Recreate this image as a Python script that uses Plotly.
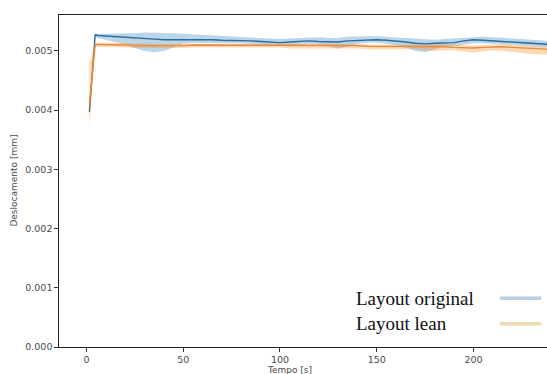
import plotly.graph_objects as go

# Time axis [s]
tempo = [1.5, 4.5, 6, 10, 15, 20, 25, 30, 35, 40, 45, 50, 55, 60, 65, 70, 75, 80, 85, 90,
         95, 100, 105, 110, 115, 120, 125, 130, 135, 140, 145, 150, 155, 160, 165, 170,
         175, 180, 185, 190, 195, 200, 205, 210, 215, 220, 225, 230, 235, 240, 245]

# Layout original (values in 1e-3 mm)
orig_mean = [3.97, 5.27, 5.26, 5.25, 5.24, 5.23, 5.22, 5.21, 5.20, 5.19, 5.19, 5.20, 5.20,
             5.19, 5.19, 5.18, 5.18, 5.18, 5.17, 5.16, 5.15, 5.14, 5.15, 5.16, 5.17, 5.16,
             5.15, 5.15, 5.17, 5.18, 5.19, 5.19, 5.18, 5.17, 5.15, 5.13, 5.12, 5.13, 5.14,
             5.14, 5.17, 5.19, 5.18, 5.17, 5.16, 5.15, 5.14, 5.12, 5.11, 5.10, 5.10]
orig_upper = [4.02, 5.29, 5.29, 5.29, 5.29, 5.30, 5.30, 5.31, 5.31, 5.30, 5.30, 5.29, 5.28,
              5.27, 5.26, 5.25, 5.25, 5.24, 5.23, 5.22, 5.21, 5.20, 5.21, 5.22, 5.23, 5.23,
              5.22, 5.22, 5.24, 5.25, 5.25, 5.25, 5.24, 5.23, 5.21, 5.20, 5.19, 5.19, 5.20,
              5.21, 5.23, 5.24, 5.24, 5.23, 5.22, 5.21, 5.20, 5.18, 5.17, 5.16, 5.16]
orig_lower = [3.90, 5.24, 5.22, 5.19, 5.16, 5.11, 5.05, 5.00, 4.98, 5.00, 5.06, 5.12, 5.14,
              5.14, 5.13, 5.13, 5.13, 5.13, 5.12, 5.11, 5.10, 5.09, 5.08, 5.10, 5.12, 5.11,
              5.07, 5.04, 5.07, 5.12, 5.14, 5.14, 5.12, 5.10, 5.06, 5.00, 4.98, 5.03, 5.08,
              5.08, 5.10, 5.13, 5.13, 5.12, 5.11, 5.10, 5.09, 5.07, 5.06, 5.05, 5.05]

# Layout lean (values in 1e-3 mm)
lean_mean = [4.10, 5.10, 5.11, 5.11, 5.10, 5.10, 5.09, 5.09, 5.08, 5.08, 5.09, 5.09, 5.10,
             5.10, 5.09, 5.09, 5.10, 5.10, 5.09, 5.09, 5.10, 5.10, 5.09, 5.09, 5.10, 5.10,
             5.09, 5.09, 5.09, 5.09, 5.08, 5.08, 5.07, 5.07, 5.07, 5.07, 5.08, 5.08, 5.07,
             5.06, 5.05, 5.05, 5.06, 5.07, 5.07, 5.06, 5.05, 5.04, 5.03, 5.02, 5.02]
lean_upper = [4.80, 5.13, 5.14, 5.14, 5.14, 5.13, 5.13, 5.13, 5.12, 5.12, 5.12, 5.13, 5.13,
              5.13, 5.13, 5.13, 5.13, 5.13, 5.12, 5.12, 5.13, 5.13, 5.12, 5.12, 5.13, 5.13,
              5.12, 5.12, 5.12, 5.12, 5.11, 5.11, 5.10, 5.10, 5.10, 5.10, 5.11, 5.12, 5.11,
              5.10, 5.09, 5.09, 5.10, 5.11, 5.11, 5.10, 5.09, 5.08, 5.07, 5.06, 5.06]
lean_lower = [3.70, 5.06, 5.07, 5.07, 5.06, 5.06, 5.05, 5.05, 5.04, 5.04, 5.05, 5.05, 5.06,
              5.06, 5.05, 5.05, 5.06, 5.06, 5.05, 5.05, 5.06, 5.06, 5.04, 5.04, 5.05, 5.05,
              5.04, 5.04, 5.04, 5.04, 5.03, 5.03, 5.02, 5.03, 5.03, 5.03, 5.01, 5.00, 5.01,
              5.01, 4.99, 4.97, 4.99, 5.01, 5.00, 4.98, 4.96, 4.95, 4.94, 4.94, 4.94]

x_ticks = [0, 50, 100, 150, 200]
y_ticks = [0.000, 0.001, 0.002, 0.003, 0.004, 0.005]
y_tick_text = ["0.000", "0.001", "0.002", "0.003", "0.004", "0.005"]
legend_names = ["Layout original", "Layout lean"]


def scale(vals):
    return [v * 1e-3 for v in vals]


fig = go.Figure()

for upper, lower, mean, color, fill in [
    (orig_upper, orig_lower, orig_mean, "#2a6c9c", "rgba(31,119,180,0.3)"),
    (lean_upper, lean_lower, lean_mean, "#e98a3c", "rgba(255,127,14,0.3)"),
]:
    fig.add_trace(go.Scatter(x=tempo, y=scale(upper), mode="lines",
                             line=dict(width=0), showlegend=False, hoverinfo="skip"))
    fig.add_trace(go.Scatter(x=tempo, y=scale(lower), mode="lines", fill="tonexty",
                             fillcolor=fill, line=dict(width=0), showlegend=False,
                             hoverinfo="skip"))
    fig.add_trace(go.Scatter(x=tempo, y=scale(mean), mode="lines",
                             line=dict(color=color, width=1.4), showlegend=False))

tick_font = dict(family="DejaVu Sans", size=9.5, color="#4a4a4a")

fig.update_layout(
    width=547, height=374,
    margin=dict(l=59, r=0, t=15, b=27),
    paper_bgcolor="white", plot_bgcolor="white",
    showlegend=False,
    xaxis=dict(range=[-14.2, 238], tickvals=x_ticks, ticktext=[str(t) for t in x_ticks],
               showgrid=False, zeroline=False, showline=True, linecolor="#222222",
               linewidth=1.3, mirror=True, ticks="outside", ticklen=3.5,
               tickcolor="#333333", tickfont=tick_font),
    yaxis=dict(range=[0, 0.005607], tickvals=y_ticks, ticktext=y_tick_text,
               showgrid=False, zeroline=False, showline=True, linecolor="#222222",
               linewidth=1.3, ticks="outside", ticklen=3.5, tickcolor="#333333",
               tickfont=tick_font),
)

# Axis titles
fig.add_annotation(text="Tempo [s]", xref="paper", yref="paper", x=0.473, y=-0.068,
                   xanchor="center", yanchor="middle", showarrow=False,
                   font=dict(family="DejaVu Sans", size=9, color="#4a4a4a"))
fig.add_annotation(text="Deslocamento [mm]", xref="paper", yref="paper", x=-0.093, y=0.5,
                   textangle=-90, xanchor="center", yanchor="middle", showarrow=False,
                   font=dict(family="DejaVu Sans", size=9, color="#4a4a4a"))

# Custom legend (text on the left, line sample on the right)
legend_colors = ["#b7cfe0", "#ecdcb0"]
legend_y = [0.147, 0.07]
for name, col, ly in zip(legend_names, legend_colors, legend_y):
    fig.add_annotation(text=name, xref="paper", yref="paper", x=0.605, y=ly,
                       xanchor="left", yanchor="middle", showarrow=False,
                       font=dict(family="Liberation Serif", size=19, color="#111111"))
    fig.add_shape(type="line", xref="paper", yref="paper", x0=0.904, x1=0.988,
                  y0=ly, y1=ly, line=dict(color=col, width=3.5))

fig.write_html("out.html")
